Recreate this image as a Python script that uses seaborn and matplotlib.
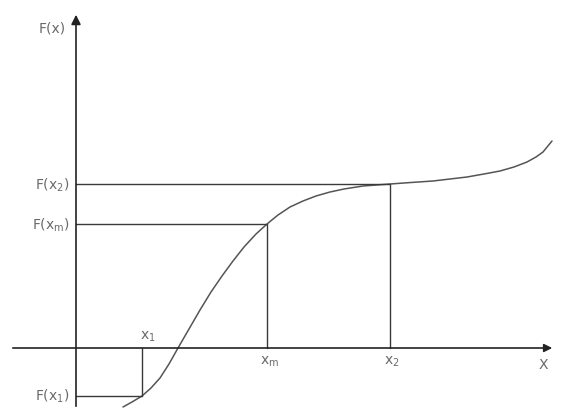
import matplotlib
matplotlib.use("Agg")
import matplotlib.pyplot as plt
import seaborn as sns
import pandas as pd

# curve F(x) (origin at the axes crossing)
curve_x = [47, 56, 66, 75, 84, 93, 102, 113, 124, 135, 146, 157, 168, 180, 191, 202, 214,
           227, 240, 254, 268, 287, 314, 335, 357, 374, 391, 408, 424, 438, 451, 460, 467, 476]
curve_y = [-59, -54, -48, -40, -30, -16, 0, 19, 38, 56, 72, 87, 101, 114, 124, 133, 141,
           147, 152, 156, 159, 162, 164, 165.5, 167, 169, 171, 174, 177, 181, 186, 191, 196, 207]

# marked points on the x axis and their F values
x1, xm, x2 = 66, 191, 314
F1, Fm, F2 = -48, 124, 164

line_col = "#3a3a3a"
text_col = "#6a6a6a"

sns.set_style("white")
plt.rcParams["font.family"] = ["DejaVu Sans"]

fig = plt.figure(figsize=(5.63, 4.10), dpi=100)
ax = fig.add_axes([0, 0, 1, 1])
ax.set_xlim(-76, 487)
ax.set_ylim(-61, 349)
ax.axis("off")

df = pd.DataFrame({"x": curve_x, "y": curve_y})
sns.lineplot(data=df, x="x", y="y", sort=False, color="#555555", lw=1.1, ax=ax)

# axes with arrows
ax.annotate("", xy=(0, 336), xytext=(0, -61),
            arrowprops=dict(arrowstyle="-|>", color="#222222", lw=1.2, mutation_scale=14))
ax.annotate("", xy=(479, 0), xytext=(-66, 0),
            arrowprops=dict(arrowstyle="-|>", color="#222222", lw=1.2, mutation_scale=12))

# guide lines
ax.plot([0, x2], [F2, F2], color=line_col, lw=1)
ax.plot([x2, x2], [0, F2], color=line_col, lw=1)
ax.plot([0, xm], [Fm, Fm], color=line_col, lw=1)
ax.plot([xm, xm], [0, Fm], color=line_col, lw=1)
ax.plot([0, x1], [F1, F1], color=line_col, lw=1)
ax.plot([x1, x1], [0, F1], color=line_col, lw=1)

fs = 10
ax.text(-10, 321, "F(x)", ha="right", va="center", fontsize=fs, color=text_col)
ax.text(-6, F2, "F(x$_2$)", ha="right", va="center", fontsize=fs, color=text_col)
ax.text(-6, Fm, r"F(x$_\mathrm{m}$)", ha="right", va="center", fontsize=fs, color=text_col)
ax.text(-6, F1 + 1, "F(x$_1$)", ha="right", va="center", fontsize=fs, color=text_col)
ax.text(x1 + 6, 12, "x$_1$", ha="center", va="center", fontsize=fs, color=text_col)
ax.text(xm + 3, -13, r"x$_\mathrm{m}$", ha="center", va="center", fontsize=fs, color=text_col)
ax.text(x2 + 2, -13, "x$_2$", ha="center", va="center", fontsize=fs, color=text_col)
ax.text(467, -16, "X", ha="center", va="center", fontsize=fs, color=text_col)

fig.savefig("out.png", dpi=100)
